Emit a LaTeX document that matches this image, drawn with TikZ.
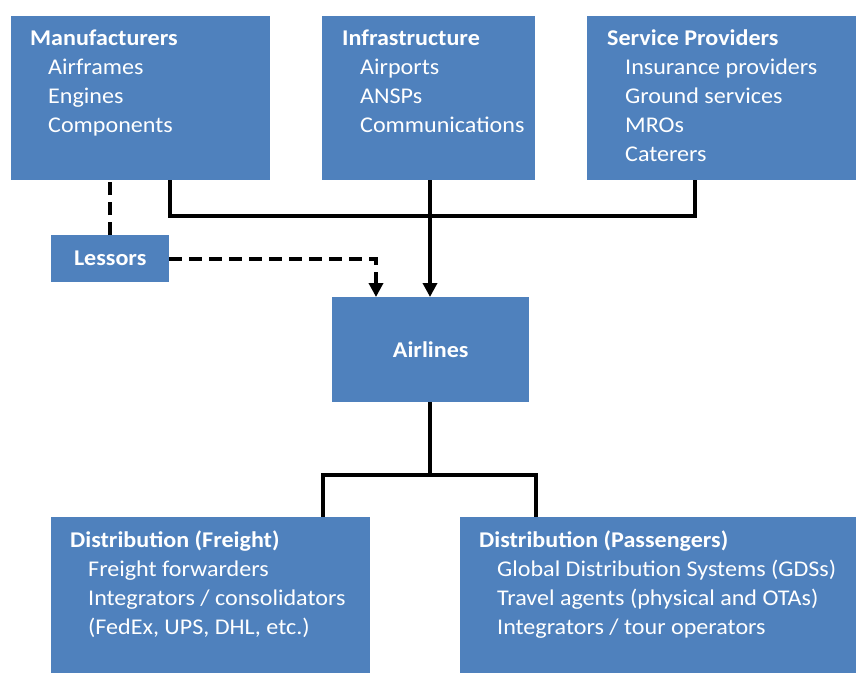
\documentclass[tikz,border=0pt]{standalone}
\usepackage{fontspec}
\setmainfont{Carlito}[FakeStretch=1.07]
\usetikzlibrary{arrows.meta}

\definecolor{boxblue}{HTML}{4F81BD}

\tikzset{
  block/.style={fill=boxblue, inner sep=0pt, anchor=north west},
  blocktext/.style={text=white, inner sep=0pt, anchor=north west, align=left,
    font=\fontsize{22.5}{28.8}\selectfont},
  link/.style={line width=4pt, black},
  dashlink/.style={line width=4pt, black, dash pattern=on 13pt off 7pt},
  tip/.style={-{Triangle[length=14pt,width=14pt]}}
}
\newcommand{\ind}{\hspace*{18pt}}

\begin{document}
\begin{tikzpicture}[x=1pt,y=-1pt]
  \useasboundingbox (0,0) rectangle (856,673);

  % boxes
  \node[block, minimum width=259pt, minimum height=164pt] (manu) at (11,16) {};
  \node[block, minimum width=213pt, minimum height=164pt] (infra) at (322,16) {};
  \node[block, minimum width=269pt, minimum height=164pt] (serv) at (587,16) {};
  \node[block, minimum width=118pt, minimum height=47pt] (lessors) at (51,235) {};
  \node[block, minimum width=197pt, minimum height=105pt] (airlines) at (332,297) {};
  \node[block, minimum width=319pt, minimum height=156pt] (freight) at (51,517) {};
  \node[block, minimum width=396pt, minimum height=156pt] (pass) at (460,517) {};

  % texts
  \node[blocktext] (manutext) at ([xshift=19pt,yshift=-14pt]manu.north west)
    {\textbf{Manufacturers}\\\ind Airframes\\\ind Engines\\\ind Components};
  \node[blocktext] (infratext) at ([xshift=20pt,yshift=-14pt]infra.north west)
    {\textbf{Infrastructure}\\\ind Airports\\\ind ANSPs\\\ind Communications};
  \node[blocktext] (servtext) at ([xshift=20pt,yshift=-14pt]serv.north west)
    {\textbf{Service Providers}\\\ind Insurance providers\\\ind Ground services\\\ind MROs\\\ind Caterers};
  \node[blocktext, anchor=center] (lessorstext) at (lessors.center) {\textbf{Lessors}};
  \node[blocktext, anchor=center] (airlinestext) at (airlines.center) {\textbf{Airlines}};
  \node[blocktext] (freighttext) at ([xshift=19pt,yshift=-14pt]freight.north west)
    {\textbf{Distribution (Freight)}\\\ind Freight forwarders\\\ind Integrators / consolidators\\\ind (FedEx, UPS, DHL, etc.)};
  \node[blocktext] (passtext) at ([xshift=19pt,yshift=-14pt]pass.north west)
    {\textbf{Distribution (Passengers)}\\\ind Global Distribution Systems (GDSs)\\\ind Travel agents (physical and OTAs)\\\ind Integrators / tour operators};

  % connectors
  \coordinate (bus) at (430,216);
  \draw[link] ([xshift=-100pt]manu.south east) |- (bus) -| ([xshift=-161pt]serv.south east);
  \draw[link, tip] (infra.south -| bus) -- (bus |- airlines.north);
  \draw[dashlink] (lessors.north) -- (lessors.north |- manu.south);
  \draw[dashlink, tip] (lessors.east) -| ([xshift=44pt]airlines.north west);
  \draw[link] (airlines.south -| bus) -- ++(0,73) coordinate (split);
  \draw[link] ([xshift=-47pt]freight.north east) |- (split) -| ([xshift=76pt]pass.north west);
\end{tikzpicture}
\end{document}
